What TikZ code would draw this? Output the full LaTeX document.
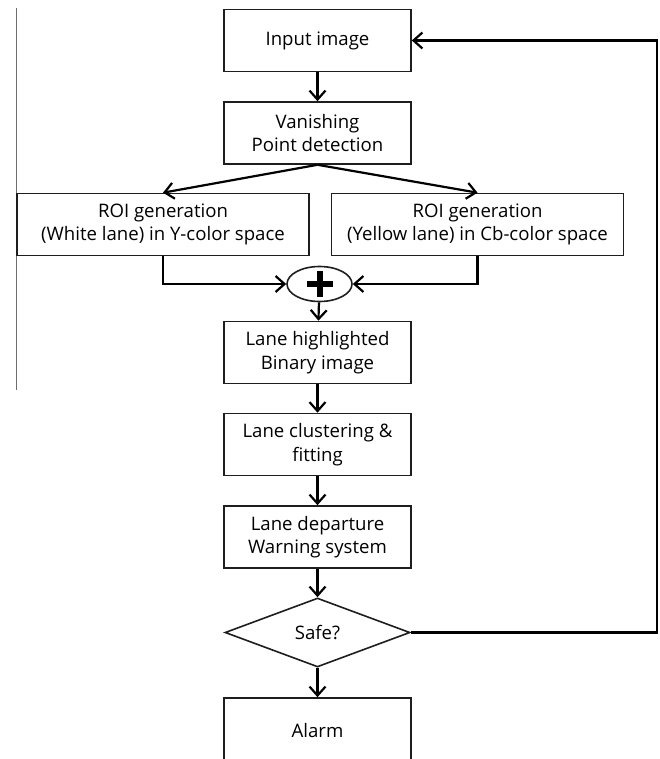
\documentclass[tikz,border=0pt]{standalone}
\usepackage{fontspec}
\setmainfont{Open Sans}
\usepackage{tikz}
\usetikzlibrary{arrows.meta,shapes.geometric}
\definecolor{boxline}{RGB}{30,30,30}
\definecolor{edgegray}{RGB}{110,110,110}

\begin{document}
\begin{tikzpicture}[x=0.5pt, y=-0.5pt,
  stepbox/.style={draw=boxline, line width=0.8pt, rectangle, align=center,
    minimum width=93.5pt, minimum height=31pt, inner sep=0pt,
    font=\fontsize{9.3}{11.8}\selectfont},
  widebox/.style={stepbox, minimum width=146pt},
  flow/.style={line width=1.1pt, -{Straight Barb[length=4.5pt,width=8pt]}}]
% Page frame: 659 x 759 px, y runs downwards
\useasboundingbox (0,0) rectangle (659,759);
\clip (0,0) rectangle (659,759);
% Thin grey rule on the left margin
\coordinate (ruletop) at (16,8);
\coordinate (rulebot) at (16,390);
\draw[edgegray, line width=0.5pt] (ruletop) -- (rulebot);
% Main column of steps
\node[stepbox] (input)  at (317.5,40.5) {Input image};
\node[stepbox] (vanish) at (317.5,133)  {Vanishing\\Point detection};
\node[widebox] (roiw)   at (163,224.5)  {ROI generation\\(White lane) in Y-color space};
\node[widebox] (roiy)   at (477.5,224.5) {ROI generation\\(Yellow lane) in Cb-color space};
\node[draw=boxline, line width=0.8pt, ellipse, minimum width=32.5pt,
  minimum height=17.5pt, inner sep=0pt] (plus) at (319.5,284) {};
\node[stepbox] (binary)  at (317.5,352.5) {Lane highlighted\\Binary image};
\node[stepbox] (cluster) at (317.5,444.5) {Lane clustering \&\\fitting};
\node[stepbox] (depart)  at (317.5,537)   {Lane departure\\Warning system};
\node[draw=boxline, line width=0.8pt, diamond, aspect=2.7, inner sep=0pt,
  minimum width=92.5pt, minimum height=34.5pt,
  font=\fontsize{9.3}{11.8}\selectfont] (safe) at (317.5,632.5) {Safe?};
\node[stepbox, minimum height=33pt] (alarm) at (317.5,731) {Alarm};
% Bold plus sign inside the ellipse
\draw[line width=3pt] ([xshift=-6.5pt]plus.center) -- ([xshift=6.5pt]plus.center);
\draw[line width=3pt] ([yshift=-6.5pt]plus.center) -- ([yshift=6.5pt]plus.center);
% Connectors
\draw[flow] (input) -- (vanish);
\draw[flow] (vanish.south) -- (roiw.north);
\draw[flow] (vanish.south) -- (roiy.north);
\draw[flow] (roiw.south) |- (plus.west);
\draw[flow] (roiy.south) |- (plus.east);
\draw[flow] (plus) -- (binary);
\draw[flow] (binary) -- (cluster);
\draw[flow] (cluster) -- (depart);
\draw[flow] (depart) -- (safe);
\draw[flow] (safe) -- (alarm);
% Loop back when safe
\coordinate (loop) at (657,40.5);
\draw[flow] (safe.east) -| (loop) -- (input.east);
\end{tikzpicture}
\end{document}
